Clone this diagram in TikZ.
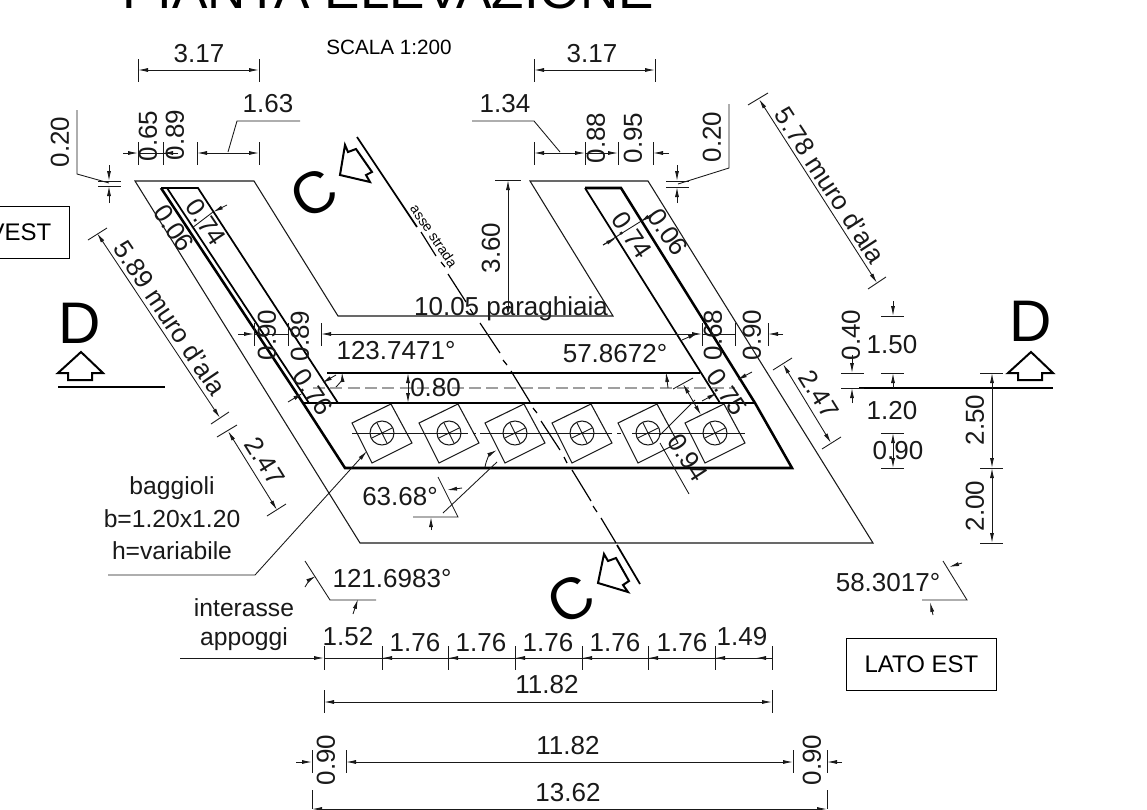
\documentclass[tikz,border=0pt]{standalone}
\usepackage{fontspec}
\setmainfont{Liberation Sans}
\usetikzlibrary{arrows.meta}
\tikzset{
    thinline/.style = {line width=0.7pt, black!90},
    wall/.style = {line width=1.9pt, line join=miter},
    wallthin/.style = {line width=1.3pt},
    dimline/.style = {line width=0.65pt, black!90},
    dimarrow/.style = {line width=0.65pt, black!90, ->},
    dimboth/.style = {line width=0.65pt, black!90, <->},
    sectarrow/.style = {line width=1.5pt, line join=miter},
    label/.style = {font=\fontsize{19.5}{22}\selectfont, inner sep=0pt, black!90},
    notelabel/.style = {font=\fontsize{18.5}{22}\selectfont, inner sep=0pt, black!90},
    bigletter/.style = {font=\fontsize{44}{48}\selectfont, inner sep=0pt},
    sidebox/.style = {draw, line width=0.7pt, font=\fontsize{18}{22}\selectfont, minimum height=39pt, align=center}
}
\def\baggiolo{%
    +(-30,-10) -- +(9,-29) -- +(30,10) -- +(-10,30) -- cycle
}
\def\sectionmark{%
    +(0,0) -- +(22,21) -- +(11,21) -- +(11,28) -- +(-13,28) -- +(-13,21) -- +(-23,21) -- cycle
}
\begin{document}
\begin{tikzpicture}[x=0.75pt, y=-0.75pt, >={Latex[length=7.5pt,width=3pt]}]
    \path[use as bounding box, clip] (0,0) rectangle (1147,810);
    % title
    \node[anchor=base west, inner sep=0pt, font=\fontsize{39.8}{42}\selectfont] (title) at (122,8) {PIANTA ELEVAZIONE};
    \node[inner sep=0pt, font=\fontsize{15.5}{18}\selectfont] (scale) at (389,47) {SCALA 1:200};
    % outline of the plan
    \draw[thinline, line width=0.8pt] (135,181) -- (254,181) -- (338,316) -- (613,316) -- (530,181) -- (648,181) -- (873,543) -- (360,543) -- cycle;
    \draw[wallthin] (161,188) -- (198,188) -- (338,403);
    \draw[wallthin] (167,188) -- (309,403);
    \draw[wall] (161,188) -- (303,403) -- (345,468) -- (792,468) -- (755,403) -- (621,188) -- (585,188);
    \draw[wallthin] (585,188) -- (720,403);
    \draw[wall, line width=1.6pt] (327,373) -- (700,373);
    \draw[wall, line width=1.6pt] (303,403) -- (755,403);
    \draw[gray!75, line width=0.8pt, dash pattern=on 9pt off 4pt] (313,388) -- (735,388);
    % bearings
    \foreach \px in {382,449,515,582,648,715}{
        \draw[thinline, line width=0.8pt] (\px,433) \baggiolo;
        \draw[thinline, line width=0.8pt] (\px,433) circle (9pt);
        \draw[thinline] (\px,433) +(-5.3,-10.8) -- +(5.3,10.8);
        \draw[thinline] (\px,433) +(-10.8,5.3) -- +(10.8,-5.3);
    }
    \foreach \pa/\pb in {352/468,473/476,480/612,617/621,632/745}{
        \draw[thinline] (\pa,433) -- (\pb,433);
    }
    % road axis
    \draw[line width=1.3pt] (357,137) -- (417,227);
    \draw[line width=0.9pt] (421,232) -- (436,256);
    \draw[line width=0.9pt] (441,262) -- (445,267);
    \draw[line width=0.9pt] (448,274) -- (466,302);
    \draw[line width=0.9pt] (470,309) -- (474,315);
    \foreach \ax/\ay/\bx/\by in {480/323/500/353,503/360/507/365,511/371/530/402,533/408/537/413,541/421/560/450,564/457/567/463,572/470/591/501,593/506/597/512,601/518/616/543}{
        \draw[line width=0.9pt] (\ax,\ay) -- (\bx,\by);
    }
    \draw[line width=1.3pt] (617,545) -- (640,584);
    \node[rotate=-56, inner sep=0pt, font=\fontsize{10.5}{12}\selectfont] (axis) at (434,236) {asse strada};
    % section marks
    \node[bigletter, rotate=30] (secCa) at (314,193) {C};
    \node[bigletter, rotate=30] (secCb) at (571,599) {C};
    \draw[sectarrow] (345,145) -- (348,152) -- (356,149) -- (372,172) -- (366,175) -- (370,182) -- (340,175) -- cycle;
    \draw[sectarrow] (604,554) -- (608,561) -- (616,558) -- (629,581) -- (623,585) -- (628,592) -- (598,583) -- cycle;
    \node[inner sep=0pt, font=\fontsize{44}{48}\selectfont] (secDa) at (80,323) {D};
    \node[inner sep=0pt, font=\fontsize{44}{48}\selectfont] (secDb) at (1031,321) {D};
    \draw[sectarrow] (81,352) \sectionmark;
    \draw[sectarrow] (1031,352) \sectionmark;
    \draw[line width=1.8pt] (58,387) -- (165,387);
    \draw[line width=1.8pt] (859,388) -- (1053,388);
    % top left dimensions
    \foreach \px in {138,259}{ \draw[dimline] (\px,59) -- (\px,82); }
    \draw[dimboth] (138,70) -- (259,70);
    \node[label] (topa) at (199,54) {3.17};
    \foreach \px in {138,163,197,259}{ \draw[dimline] (\px,142) -- (\px,165); }
    \draw[dimarrow] (123,153) -- (138,153);
    \draw[dimline] (138,153) -- (178,153);
    \draw[dimarrow] (178,153) -- (163,153);
    \draw[dimboth] (197,153) -- (259,153);
    \draw[dimline] (228,152) -- (237,121) -- (300,121);
    \node[label] (lefta) at (268,104) {1.63};
    \node[label, rotate=90] (leftb) at (148,136) {0.65};
    \node[label, rotate=90] (leftc) at (175,135) {0.89};
    \node[label, rotate=90] (leftd) at (60,142) {0.20};
    \draw[dimline] (77,110) -- (77,174) -- (109,183);
    \foreach \py in {181,186}{ \draw[dimline] (98,\py) -- (121,\py); }
    \draw[dimarrow] (109,165) -- (109,181);
    \draw[dimarrow] (109,203) -- (109,186);
    % top right dimensions
    \foreach \px in {534,655}{ \draw[dimline] (\px,59) -- (\px,82); }
    \draw[dimboth] (534,70) -- (655,70);
    \node[label] (topb) at (592,54) {3.17};
    \foreach \px in {534,585,618,653}{ \draw[dimline] (\px,142) -- (\px,165); }
    \draw[dimboth] (534,153) -- (585,153);
    \draw[dimarrow] (585,153) -- (618,153);
    \draw[dimarrow] (669,153) -- (653,153);
    \draw[dimline] (560,152) -- (534,121) -- (472,121);
    \node[label] (righta) at (505,104) {1.34};
    \node[label, rotate=90] (rightb) at (596,138) {0.88};
    \node[label, rotate=90] (rightc) at (633,138) {0.95};
    \node[label, rotate=90] (rightd) at (712,137) {0.20};
    \draw[dimline] (729,104) -- (729,168) -- (678,184);
    \foreach \py in {181,187}{ \draw[dimline] (666,\py) -- (689,\py); }
    \draw[dimarrow] (677,165) -- (677,181);
    \draw[dimarrow] (677,203) -- (677,187);
    % sloped dimensions
    \draw[dimline] (748,105) -- (768,93);
    \draw[dimline] (868,289) -- (886,277);
    \draw[dimboth] (759,99) -- (877,283);
    \node[label, rotate=-57] (wallr) at (830,185) {5.78 muro d'ala};
    \draw[dimline] (773,370) -- (792,358);
    \draw[dimline] (822,449) -- (841,437);
    \draw[dimboth] (783,364) -- (831,443);
    \node[label, rotate=-58] (wallrb) at (819,394) {2.47};
    \draw[dimline] (88,240) -- (107,228);
    \draw[dimline] (211,424) -- (229,412);
    \draw[dimboth] (97,233) -- (220,418);
    \node[label, rotate=-56] (walll) at (170,318) {5.89 muro d'ala};
    \draw[dimline] (217,437) -- (237,425);
    \draw[dimline] (267,516) -- (286,504);
    \draw[dimboth] (228,431) -- (277,510);
    \node[label, rotate=-58] (walllb) at (265,461) {2.47};
    % wall thickness
    \draw[dimline] (192,228) -- (213,212);
    \draw[dimarrow] (227,205) -- (213,212);
    \node[label, rotate=-56] (thka) at (206,222) {0.74};
    \node[label, rotate=-56] (thkb) at (174,228) {0.06};
    \draw[dimline] (603,245) -- (651,215);
    \draw[dimarrow] (603,245) -- (616,238);
    \draw[dimarrow] (651,215) -- (640,222);
    \node[label, rotate=-56] (thkc) at (632,235) {0.74};
    \node[label, rotate=-56] (thkd) at (668,232) {0.06};
    \draw[dimarrow] (288,402) -- (303,393);
    \draw[dimarrow] (336,375) -- (322,383);
    \node[label, rotate=-56] (thke) at (313,392) {0.76};
    \draw[dimarrow] (702,401) -- (717,393);
    \draw[dimarrow] (752,372) -- (737,380);
    \node[label, rotate=-56] (thkf) at (727,392) {0.75};
    % top row across the abutment
    \foreach \px in {254,288,321,702,735,768}{ \draw[dimline] (\px,323) -- (\px,346); }
    \draw[dimarrow] (238,334) -- (254,334);
    \draw[dimline] (254,334) -- (288,334);
    \draw[dimboth] (321,334) -- (702,334);
    \draw[dimline] (702,334) -- (735,334);
    \draw[dimarrow] (783,334) -- (768,334);
    \node[label, rotate=90] (rowa) at (267,335) {0.90};
    \node[label, rotate=90] (rowb) at (300,336) {0.89};
    \node[label, rotate=90] (rowc) at (713,335) {0.68};
    \node[label, rotate=90] (rowd) at (752,335) {0.90};
    \node[label] (back) at (511,309) {10.05 paraghiaia};
    \draw[dimline] (495,180) -- (521,180);
    \draw[dimboth] (508,180) -- (508,316);
    \node[label, rotate=90] (wingh) at (491,248) {3.60};
    % angles
    \node[label] (anga) at (396,351) {123.7471°};
    \draw[dimarrow] (336,387) to[bend right=25] (342,372);
    \node[label] (angb) at (615,354) {57.8672°};
    \draw[dimarrow] (668,388) -- (666,372);
    \draw[dimarrow] (682,340) -- (698,333);
    \draw[dimboth] (408,373) -- (408,403);
    \node[label, anchor=west] (seat) at (410,388) {0.80};
    % 0.94
    \draw[dimline] (673,389) -- (693,378);
    \draw[dimboth] (683,384) -- (701,415);
    \draw[dimline] (660,443) -- (689,494);
    \draw[dimline] (660,435) -- (695,400);
    \node[label, rotate=-57] (gap) at (688,458) {0.94};
    % 63.68
    \node[label] (angc) at (400,497) {63.68°};
    \draw[dimline] (497,462) -- (443,513);
    \draw[dimline] (438,477) -- (458,517) -- (413,517);
    \draw[dimarrow] (485,467) to[bend left=25] (497,450);
    \draw[dimarrow] (462,488) -- (447,490);
    \draw[dimarrow] (431,530) -- (431,517);
    % bearing note
    \node[notelabel] (nota) at (172,488) {baggioli};
    \node[notelabel] (notb) at (172,519) {b=1.20x1.20};
    \node[notelabel] (notc) at (172,551) {h=variabile};
    \draw[dimarrow] (108,575) -- (255,575) -- (367,451);
    % 121.6983
    \node[label] (angd) at (392,579) {121.6983°};
    \draw[dimline] (305,561) -- (330,600) -- (376,600);
    \draw[dimarrow] (305,587) to[bend left=15] (316,576);
    \draw[dimarrow] (353,614) -- (358,599);
    % 58.3017
    \node[label] (ange) at (888,583) {58.3017°};
    \draw[dimline] (943,561) -- (967,600) -- (922,600);
    \draw[dimarrow] (962,563) -- (949,567);
    \draw[dimarrow] (933,615) -- (930,602);
    % right hand levels
    \foreach \py in {316,373,433,468}{ \draw[dimline] (881,\py) -- (904,\py); }
    \draw[dimarrow] (893,301) -- (893,316);
    \draw[dimarrow] (893,388) -- (893,373);
    \draw[dimboth] (893,433) -- (893,468);
    \node[label] (lva) at (892,345) {1.50};
    \node[label] (lvb) at (892,411) {1.20};
    \node[label] (lvc) at (898,451) {0.90};
    \foreach \py in {373,388}{ \draw[dimline] (841,\py) -- (864,\py); }
    \draw[dimarrow] (852,355) -- (852,373);
    \draw[dimarrow] (852,403) -- (852,388);
    \node[label, rotate=90] (lvd) at (851,335) {0.40};
    \foreach \py in {373,468,543}{ \draw[dimline] (980,\py) -- (1003,\py); }
    \draw[dimboth] (992,373) -- (992,468);
    \draw[dimboth] (992,468) -- (992,543);
    \node[label, rotate=90] (lve) at (975,420) {2.50};
    \node[label, rotate=90] (lvf) at (975,506) {2.00};
    % side boxes
    \node[sidebox, minimum width=112pt] (east) at (921.5,664) {LATO EST};
    \node[sidebox, minimum width=138pt] (west) at (-23,232.5) {LATO OVEST};
    % bearing spacing
    \node[notelabel] (spa) at (244,608) {interasse};
    \node[notelabel] (spb) at (244,639) {appoggi};
    \draw[dimarrow] (180,658) -- (324,658);
    \draw[dimarrow] (772,658) -- (756,658);
    \draw[dimline] (324,658) -- (772,658);
    \foreach \px in {324,382,448,515,582,648,715,772}{ \draw[dimline] (\px,646) -- (\px,670); }
    \foreach \px in {382,448,515,582,648,715}{ \draw[dimarrow] (\px+8,658) -- (\px,658); }
    \node[label] (spc) at (348,637) {1.52};
    \foreach \px in {415,481,548,615,682}{
        \node[label] (sp\px) at (\px,643) {1.76};
    }
    \node[label] (spd) at (742,637) {1.49};
    \foreach \px in {324,772}{ \draw[dimline] (\px,690) -- (\px,713); }
    \draw[dimboth] (324,702) -- (772,702);
    \node[label] (tota) at (547,685) {11.82};
    % overall width
    \foreach \px in {312,346,793,827}{ \draw[dimline] (\px,750) -- (\px,773); }
    \draw[dimarrow] (296,762) -- (312,762);
    \draw[dimboth] (346,762) -- (793,762);
    \draw[dimarrow] (842,762) -- (827,762);
    \node[label, rotate=90] (ova) at (326,760) {0.90};
    \node[label, rotate=90] (ovb) at (812,760) {0.90};
    \node[label] (ovc) at (568,746) {11.82};
    \foreach \px in {312,827}{ \draw[dimline] (\px,790) -- (\px,809); }
    \draw[dimboth] (312,809) -- (827,809);
    \node[label] (ovd) at (568,793) {13.62};
\end{tikzpicture}
\end{document}
